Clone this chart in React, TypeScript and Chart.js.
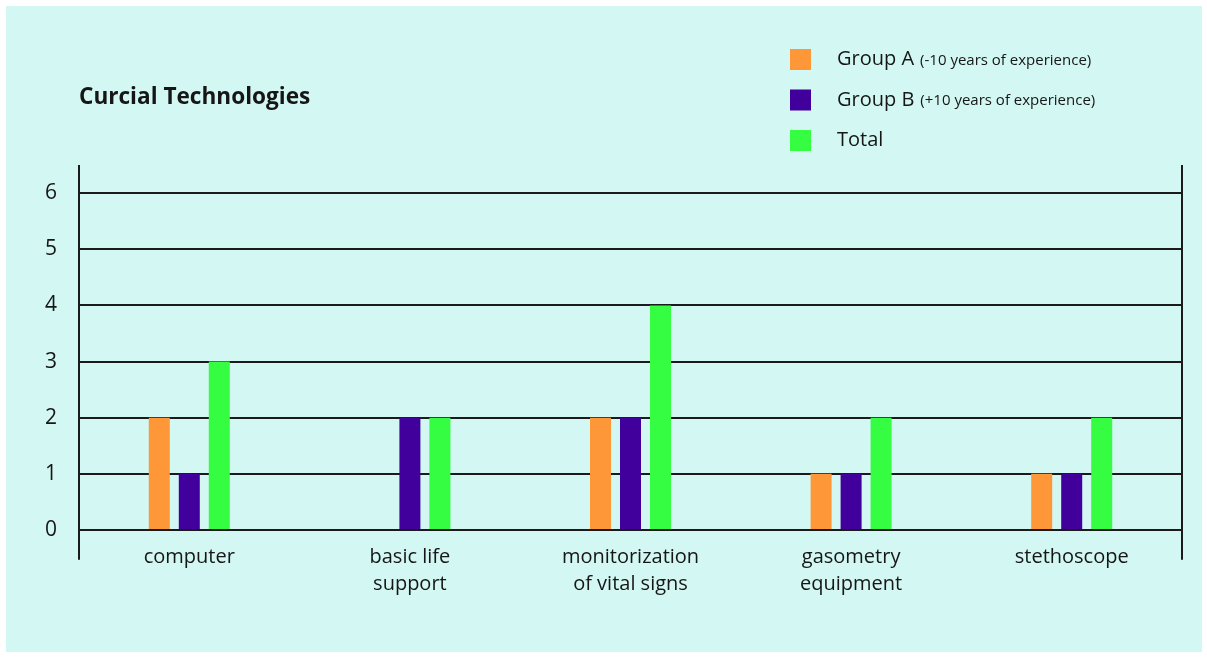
import React, { useEffect, useRef } from 'react';
import { Chart, registerables } from 'chart.js';

Chart.register(...registerables);

// Categories (multi-line labels) and series values
const categories = [
  ['computer'],
  ['basic life', 'support'],
  ['monitorization', 'of vital signs'],
  ['gasometry', 'equipment'],
  ['stethoscope'],
];
const seriesNames = ['Group A', 'Group B', 'Total'];
const seriesNotes = ['(-10 years of experience)', '(+10 years of experience)', ''];
const groupA = [2, 0, 2, 1, 1];
const groupB = [1, 2, 2, 1, 1];
const total = [3, 2, 4, 2, 2];
const yTicks = [0, 1, 2, 3, 4, 5, 6];
const seriesColors = ['#fe9738', '#41009b', '#34fd42'];

const FONT = '"Open Sans", sans-serif';
const INK = '#161616';
const RULE = '#1b1b1b';

// Legend drawn as stacked rows: a colour square, the series name and a smaller note
const notedLegend = {
  id: 'notedLegend',
  afterDraw(chart: any, _args: any, opts: any) {
    const ctx = chart.ctx;
    ctx.save();
    chart.data.datasets.forEach((ds: any, i: number) => {
      const top = opts.top + i * opts.rowGap;
      ctx.fillStyle = ds.backgroundColor;
      ctx.fillRect(opts.left, top, opts.box, opts.box);
      const midY = top + opts.box / 2;
      ctx.fillStyle = INK;
      ctx.textBaseline = 'middle';
      ctx.textAlign = 'left';
      ctx.font = `${opts.nameSize}px ${FONT}`;
      const tx = opts.left + opts.textGap;
      ctx.fillText(ds.label, tx, midY);
      const w = ctx.measureText(ds.label).width;
      const note = opts.notes[i];
      if (note) {
        ctx.font = `${opts.noteSize}px ${FONT}`;
        ctx.fillText(note, tx + w + 6, midY + 1);
      }
    });
    ctx.restore();
  },
};

// Vertical rules at both sides of the plot, running down past the zero line
const sideRules = {
  id: 'sideRules',
  afterDraw(chart: any, _args: any, opts: any) {
    const { ctx, chartArea } = chart;
    const y = chart.scales.y;
    const bottom = y.getPixelForValue(opts.downTo);
    ctx.save();
    ctx.strokeStyle = RULE;
    ctx.lineWidth = 2;
    ctx.beginPath();
    [chartArea.left, chartArea.right].forEach((x: number) => {
      ctx.moveTo(x, chartArea.top);
      ctx.lineTo(x, bottom);
    });
    ctx.stroke();
    ctx.restore();
  },
};

export default function App() {
  const canvasRef = useRef<HTMLCanvasElement | null>(null);

  useEffect(() => {
    const canvas = canvasRef.current;
    if (!canvas) return;
    const datasets = [groupA, groupB, total].map((values, i) => ({
      label: seriesNames[i],
      data: values,
      backgroundColor: seriesColors[i],
      borderWidth: 0,
      barPercentage: 0.7,
      categoryPercentage: 0.408,
    }));

    const chart = new Chart(canvas, {
      type: 'bar',
      data: { labels: categories, datasets },
      plugins: [notedLegend, sideRules],
      options: {
        responsive: false,
        animation: false,
        layout: { padding: { left: 0, right: 20, top: 0, bottom: 0 } },
        plugins: {
          legend: { display: false },
          tooltip: { enabled: false },
          title: {
            display: true,
            text: 'Curcial Technologies',
            align: 'start',
            fullSize: false,
            color: INK,
            font: { family: FONT, size: 22.6, weight: 'bold' },
            padding: { top: 78, bottom: 53.9 },
          },
          notedLegend: {
            left: 784,
            top: 43,
            rowGap: 40.5,
            box: 21,
            textGap: 47,
            nameSize: 20,
            noteSize: 15,
            notes: seriesNotes,
          },
          sideRules: { downTo: -0.53 },
        } as any,
        scales: {
          x: {
            grid: { display: false, drawTicks: false },
            border: { display: false },
            ticks: {
              color: INK,
              padding: 0,
              maxRotation: 0,
              autoSkip: false,
              font: { family: FONT, size: 20, lineHeight: 1.35 },
            },
            afterFit: (s: any) => {
              s.height = 108;
            },
          },
          y: {
            min: -0.25,
            max: 6.5,
            afterBuildTicks: (s: any) => {
              s.ticks = yTicks.map((v) => ({ value: v }));
            },
            grid: { color: RULE, lineWidth: 2, drawTicks: false },
            border: { display: false },
            ticks: {
              color: INK,
              padding: 22,
              font: { family: FONT, size: 21 },
            },
            afterFit: (s: any) => {
              s.width = 73;
            },
          },
        },
      },
    });
    return () => chart.destroy();
  }, []);

  return (
    <div
      style={{
        position: 'fixed',
        left: 0,
        top: 0,
        width: 1207,
        height: 657,
        background: '#ffffff',
      }}
    >
      <div
        style={{
          position: 'absolute',
          left: 6,
          top: 6,
          width: 1196,
          height: 646,
          background: '#d3f7f3',
        }}
      >
        <canvas ref={canvasRef} width={1196} height={646} style={{ display: 'block' }} />
      </div>
    </div>
  );
}
